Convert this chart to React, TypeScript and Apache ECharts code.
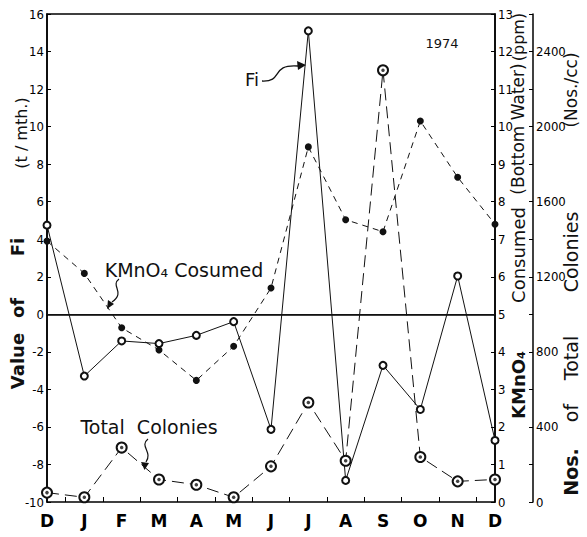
import React, { useEffect, useRef } from "react";
import * as echarts from "echarts";

const months = ["D", "J", "F", "M", "A", "M", "J", "J", "A", "S", "O", "N", "D"];
const fiValues = [4.75, -3.29, -1.42, -1.56, -1.12, -0.39, -6.13, 15.1, -8.85, -2.72, -5.07, 2.04, -6.72];
const kmno4Values = [6.95, 6.09, 4.64, 4.05, 3.24, 4.15, 5.7, 9.46, 7.52, 7.2, 10.15, 8.65, 7.4];
const colonyValues = [50, 25, 290, 120, 92, 25, 190, 530, 220, 2300, 240, 110, 120];
const halfSteps = ["0", "1", "2", "3", "4", "5", "6", "7", "8", "9", "10", "11", "12", "13", "14", "15", "16", "17", "18", "19", "20", "21", "22", "23", "24"];

const NARROW = '"Liberation Sans Narrow", "DejaVu Sans Condensed", "Liberation Sans", sans-serif';
const TITLE = '"DejaVu Sans", sans-serif';

function vText(text: string, x: number, y: number, size: number, weight: string = "normal") {
  return {
    type: "text",
    x,
    y,
    rotation: Math.PI / 2,
    style: { text, fontSize: size, fontFamily: TITLE, fontWeight: weight, fill: "#111", align: "center", verticalAlign: "middle" },
  };
}

export default function App() {
  const ref = useRef<HTMLDivElement>(null);
  useEffect(() => {
    if (!ref.current) return;
    const chart = echarts.init(ref.current, undefined, { renderer: "svg" });
    const axisLine = { show: true, lineStyle: { color: "#000", width: 1.5 } };
    const option: any = {
      animation: false,
      backgroundColor: "#fff",
      grid: { left: 47, right: 92, top: 14, bottom: 35, show: true, borderColor: "#000", borderWidth: 1.5 },
      xAxis: [
        {
          type: "category",
          data: months,
          boundaryGap: false,
          position: "bottom",
          axisLine,
          axisTick: { show: false },
          axisLabel: { color: "#000", fontSize: 17, fontWeight: "bold", fontFamily: TITLE, margin: 10, interval: 0 },
          splitLine: { show: false },
        },
        {
          type: "category",
          data: halfSteps,
          boundaryGap: false,
          position: "bottom",
          axisLine: { show: false },
          axisTick: { show: true, inside: true, length: 5, interval: (i: number) => i % 2 === 1, lineStyle: { color: "#000" } },
          axisLabel: { show: false },
          splitLine: { show: false },
        },
      ],
      yAxis: [
        {
          type: "value",
          min: -10,
          max: 16,
          interval: 2,
          position: "left",
          axisLine,
          axisTick: { show: true, inside: true, length: 4, lineStyle: { color: "#000" } },
          axisLabel: { color: "#000", fontSize: 13, fontFamily: NARROW, margin: 3 },
          splitLine: { show: false },
        },
        {
          type: "value",
          min: 0,
          max: 13,
          interval: 1,
          position: "right",
          axisLine,
          axisTick: { show: true, inside: true, length: 4, lineStyle: { color: "#000" } },
          axisLabel: { color: "#000", fontSize: 13, fontFamily: NARROW, margin: 3 },
          splitLine: { show: false },
        },
        {
          type: "value",
          min: 0,
          max: 2600,
          interval: 400,
          position: "right",
          offset: 38,
          axisLine,
          axisTick: { show: true, inside: true, length: 4, lineStyle: { color: "#000" } },
          minorTick: { show: true, splitNumber: 2, length: 4, lineStyle: { color: "#000" } },
          axisLabel: { color: "#000", fontSize: 13, fontFamily: NARROW, margin: 3, formatter: (v: number) => (v === 2600 ? "" : String(v)) },
          splitLine: { show: false },
        },
      ],
      series: [
        {
          name: "Fi",
          type: "line",
          data: fiValues,
          xAxisIndex: 0,
          yAxisIndex: 0,
          symbol: "emptyCircle",
          symbolSize: 7,
          showAllSymbol: true,
          lineStyle: { color: "#111", width: 1 },
          itemStyle: { color: "#111", borderColor: "#111", borderWidth: 1 },
          z: 3,
          markLine: {
            silent: true,
            symbol: "none",
            label: { show: false },
            lineStyle: { color: "#111", width: 1.2, type: "solid" },
            data: [{ yAxis: 0 }],
          },
        },
        {
          name: "KMnO4 Cosumed",
          type: "line",
          data: kmno4Values,
          xAxisIndex: 0,
          yAxisIndex: 1,
          symbol: "circle",
          symbolSize: 7,
          showAllSymbol: true,
          lineStyle: { color: "#111", width: 1, type: [6, 5] },
          itemStyle: { color: "#111" },
          z: 3,
        },
        {
          name: "Total Colonies",
          type: "line",
          data: colonyValues,
          xAxisIndex: 0,
          yAxisIndex: 2,
          symbol: "emptyCircle",
          symbolSize: 10,
          showAllSymbol: true,
          lineStyle: { color: "#111", width: 1, type: [12, 6] },
          itemStyle: { color: "#111", borderColor: "#111", borderWidth: 1.2 },
          z: 3,
        },
        {
          name: "Total Colonies dot",
          type: "scatter",
          data: colonyValues,
          xAxisIndex: 0,
          yAxisIndex: 2,
          symbol: "circle",
          symbolSize: 3.5,
          itemStyle: { color: "#111" },
          z: 5,
        },
      ],
      graphic: [
        vText("(t / mth.)", 21, 133, 16),
        vText("Fi", 17, 247, 18, "bold"),
        vText("of", 17, 308, 18, "bold"),
        vText("Value", 17, 361, 18, "bold"),
        vText("(ppm)", 518, 37, 16),
        vText("(Bottom Water)", 518, 129, 17),
        vText("Consumed", 518, 255, 18),
        vText("KMnO\u2084", 518, 385, 18, "bold"),
        vText("(Nos./cc)", 571, 90, 17),
        vText("Colonies", 571, 252, 19),
        vText("Total", 571, 358, 19),
        vText("of", 571, 413, 19),
        vText("Nos.", 571, 472, 19, "bold"),
        { type: "text", x: 442, y: 43, style: { text: "1974", fontSize: 13, fontFamily: TITLE, fill: "#111", align: "center", verticalAlign: "middle" } },
        { type: "text", x: 252, y: 79, style: { text: "Fi", fontSize: 18, fontFamily: TITLE, fill: "#111", align: "center", verticalAlign: "middle" } },
        { type: "bezierCurve", shape: { x1: 262, y1: 81, cpx1: 284, cpy1: 82, cpx2: 270, cpy2: 64, x2: 298, y2: 66 }, style: { stroke: "#111", lineWidth: 1.3, fill: "none" } },
        { type: "polygon", shape: { points: [[306, 65], [297, 61], [298, 70]] }, style: { fill: "#111" } },
        { type: "text", x: 184, y: 270, style: { text: "KMnO\u2084 Cosumed", fontSize: 19, fontFamily: TITLE, fill: "#111", align: "center", verticalAlign: "middle" } },
        { type: "bezierCurve", shape: { x1: 119, y1: 279, cpx1: 110, cpy1: 286, cpx2: 126, cpy2: 292, x2: 112, y2: 302 }, style: { stroke: "#111", lineWidth: 1.2, fill: "none" } },
        { type: "polygon", shape: { points: [[107, 309], [114, 304], [108, 300]] }, style: { fill: "#111" } },
        { type: "text", x: 149, y: 427, style: { text: "Total  Colonies", fontSize: 19, fontFamily: TITLE, fill: "#111", align: "center", verticalAlign: "middle" } },
        { type: "bezierCurve", shape: { x1: 148, y1: 439, cpx1: 139, cpy1: 446, cpx2: 153, cpy2: 452, x2: 146, y2: 462 }, style: { stroke: "#111", lineWidth: 1.2, fill: "none" } },
        { type: "polygon", shape: { points: [[144.5, 470], [141, 462], [149, 463]] }, style: { fill: "#111" } },
      ],
    };
    chart.setOption(option);
    return () => chart.dispose();
  }, []);
  return <div ref={ref} style={{ position: "fixed", left: 0, top: 0, width: 587, height: 537 }} />;
}
